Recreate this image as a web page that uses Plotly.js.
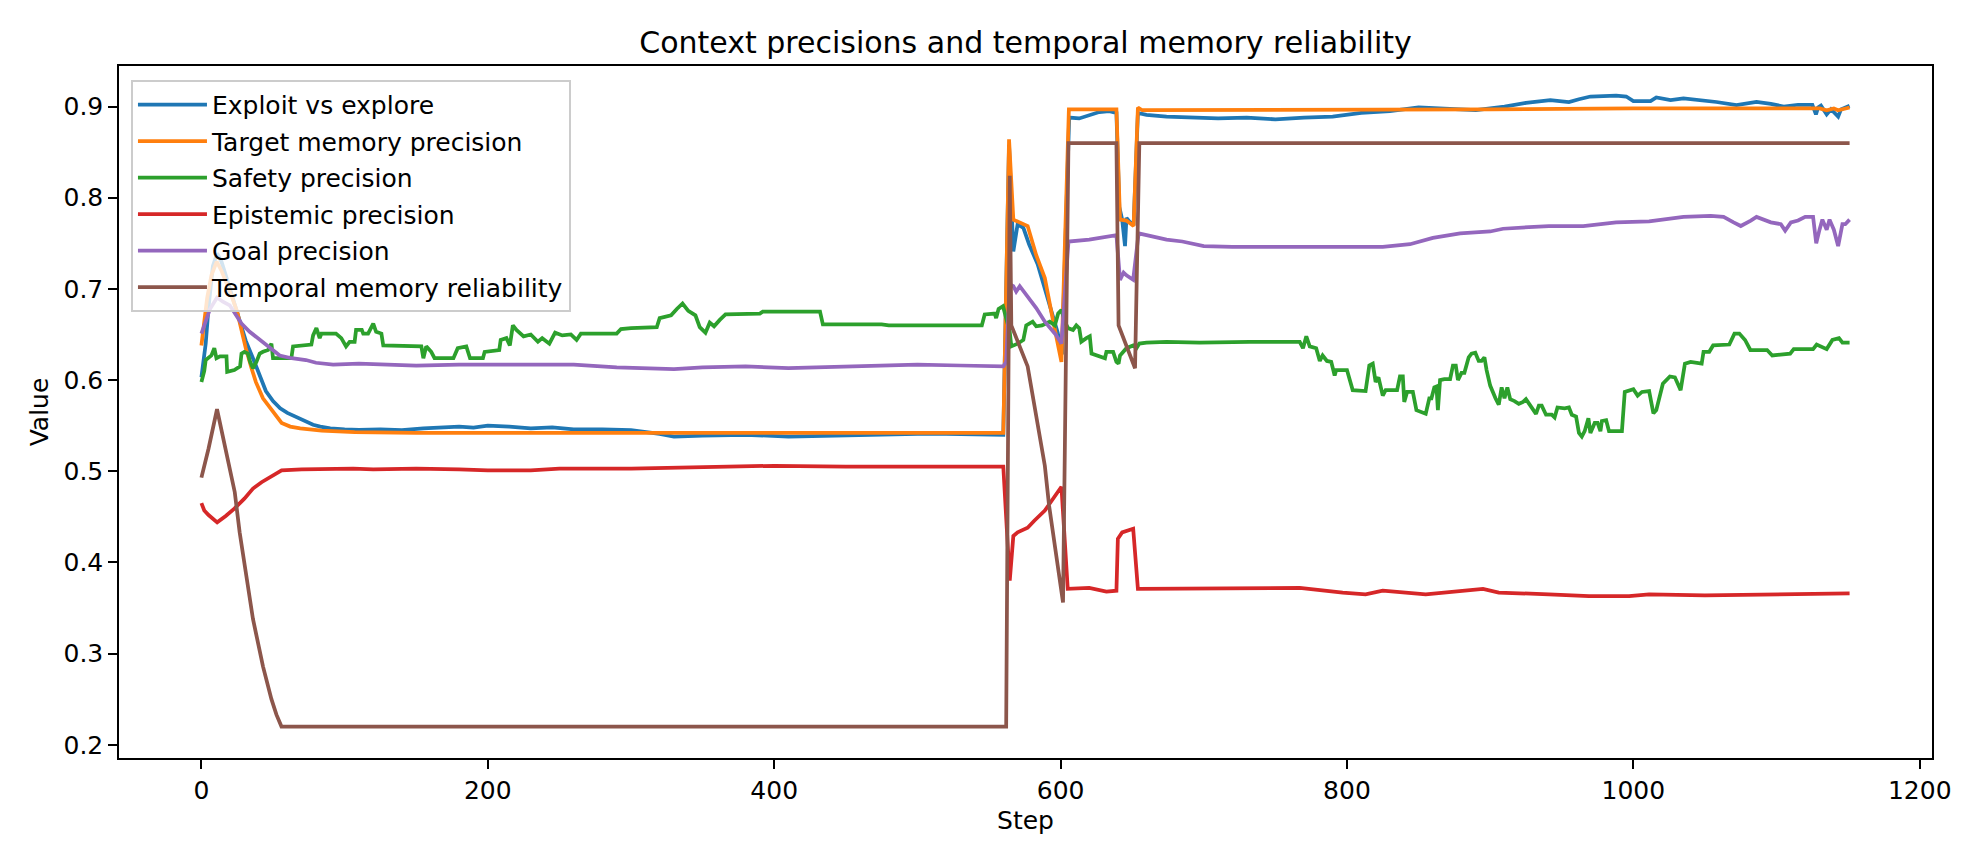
<!DOCTYPE html>
<html>
<head>
<meta charset="utf-8">
<script src="https://cdn.plot.ly/plotly-3.0.1.min.js"></script>
<style>html,body{margin:0;padding:0;background:#fff;}#chart{width:1980px;height:864px;}</style>
</head>
<body>
<div id="chart"></div>
<script>
// ---- Data ----
const seriesNames = ["Exploit vs explore", "Target memory precision", "Safety precision",
  "Epistemic precision", "Goal precision", "Temporal memory reliability"];
const seriesColors = ["#1f77b4", "#ff7f0e", "#2ca02c", "#d62728", "#9467bd", "#8c564b"];

const exploitSteps = [0,3,5,8,11,14,18,22,27,31,36,41,45,50,55,60,64,69,73,78,83,90,100,110,125,140,155,165,180,190,200,215,230,245,260,280,300,320,330,350,380,410,440,460,480,500,520,540,560,562,564,567,570,574,578,584,589,594,598,601,606,613,620,627,634,639,641,643,645,646,648,651,654,660,674,690,710,730,750,770,790,810,830,850,870,890,910,925,942,955,962,970,988,995,1000,1012,1016,1026,1035,1058,1072,1086,1096,1105,1115,1125,1127.5,1129,1131,1135,1138,1143,1145,1148,1151];
const exploitValues = [0.603,0.64,0.68,0.725,0.739,0.73,0.71,0.69,0.665,0.643,0.624,0.604,0.588,0.577,0.569,0.564,0.561,0.557,0.554,0.551,0.549,0.547,0.546,0.5455,0.546,0.545,0.547,0.548,0.549,0.548,0.55,0.549,0.547,0.548,0.546,0.546,0.545,0.541,0.538,0.539,0.54,0.538,0.539,0.54,0.541,0.541,0.541,0.541,0.54,0.7,0.858,0.741,0.771,0.767,0.749,0.727,0.70,0.675,0.652,0.628,0.888,0.887,0.891,0.894,0.895,0.893,0.79,0.776,0.747,0.778,0.774,0.77,0.893,0.891,0.889,0.888,0.887,0.888,0.886,0.888,0.889,0.893,0.895,0.899,0.898,0.896,0.9,0.904,0.907,0.905,0.908,0.911,0.912,0.911,0.906,0.906,0.91,0.907,0.909,0.905,0.9015,0.905,0.903,0.9,0.902,0.902,0.8915,0.899,0.901,0.8915,0.897,0.889,0.897,0.899,0.901];

const targetSteps = [0,4,7,10.7,14,18,22,25,31,35,38,43,48,56,62,69,84,107,150,300,450,560,562,564,567,577,583,589,594,597,600.6,605.8,639,641.5,646,651,654,657,700,800,900,1000,1100,1130,1135,1140,1143,1151];
const targetValues = [0.638,0.69,0.715,0.73,0.72,0.705,0.688,0.675,0.635,0.613,0.598,0.58,0.569,0.553,0.549,0.547,0.5445,0.543,0.542,0.542,0.542,0.542,0.7,0.864,0.776,0.769,0.737,0.712,0.671,0.646,0.62,0.897,0.897,0.776,0.775,0.769,0.899,0.896,0.896,0.897,0.897,0.898,0.898,0.898,0.896,0.898,0.896,0.899];

const safetySteps = [0,2,3,7,9,10.5,13,17.5,18,23,27,28,30,32.5,34,36,38.4,40.7,43,46.5,48.9,50,54.7,62.8,64,76.8,78,80.3,82.6,83.8,94,97.7,101,103.5,107,108,112,113,116.4,120,122,125.7,127,153.6,155,157,160.5,162.8,176,179,185,187.6,196.6,197.8,208,209,213,215.4,217.5,220,225,230,235,238,243,247,252,258,262,265,290,293,300,310,318,320,328,332,336,340,345,348,352,355,358,362,366,390,392,432,434,475,480,545,547,554,555,556.7,559.8,564.5,565.6,570,574,576,580.5,583,587,592.4,596,598.3,600.6,603,605.2,608.7,611,613,614.5,618,620.4,621.6,627.4,631,632,636.7,639,640.5,641.5,646,650.7,653,655,660,674,697,732,767,769.3,771.6,774,778.5,781,783,786,789,791.4,792.5,800,804,813,815.6,818,820,822,825,827,835,837,839,840,842,846,848.5,855,857.5,859,861,862.5,863.5,865,868,872,874,876,877.5,880,882,885,887,889.6,892,894,896,897.5,900,903.7,906,908,910,912,914,917,920,923,925,932,934,936,939,943,945,947,952,955,957,960,962,964,966,968.6,970,973,975,977,978,981,983,988,992,994,1000,1003,1006,1011,1014,1016,1020.6,1025.5,1029,1033,1036,1040,1047.7,1049,1053,1055.7,1067,1070.6,1074,1078,1081.7,1093.4,1097,1109.5,1112,1125.5,1128,1135,1139,1143.6,1146,1151];
const safetyValues = [0.598,0.61,0.622,0.627,0.635,0.624,0.626,0.626,0.609,0.611,0.615,0.629,0.631,0.629,0.62,0.613,0.62,0.629,0.631,0.633,0.64,0.624,0.624,0.624,0.637,0.639,0.649,0.657,0.646,0.651,0.651,0.646,0.637,0.642,0.642,0.655,0.655,0.651,0.651,0.662,0.653,0.651,0.638,0.637,0.624,0.637,0.631,0.624,0.624,0.635,0.637,0.624,0.624,0.631,0.633,0.644,0.646,0.638,0.66,0.655,0.648,0.65,0.642,0.646,0.64,0.652,0.649,0.65,0.644,0.651,0.651,0.656,0.657,0.658,0.658,0.668,0.671,0.678,0.684,0.676,0.671,0.658,0.652,0.663,0.659,0.666,0.672,0.673,0.675,0.675,0.661,0.661,0.66,0.66,0.672,0.673,0.668,0.678,0.681,0.653,0.637,0.64,0.644,0.66,0.664,0.659,0.66,0.664,0.66,0.673,0.677,0.664,0.657,0.655,0.66,0.657,0.642,0.646,0.648,0.629,0.626,0.624,0.631,0.631,0.62,0.618,0.627,0.635,0.638,0.635,0.64,0.641,0.642,0.641,0.642,0.642,0.635,0.648,0.637,0.635,0.621,0.627,0.621,0.62,0.605,0.611,0.611,0.589,0.588,0.616,0.618,0.598,0.603,0.583,0.589,0.589,0.604,0.604,0.576,0.587,0.587,0.567,0.563,0.58,0.58,0.592,0.593,0.567,0.6,0.601,0.601,0.616,0.616,0.6,0.608,0.608,0.625,0.629,0.63,0.621,0.621,0.625,0.611,0.594,0.58,0.573,0.592,0.58,0.592,0.579,0.577,0.574,0.576,0.579,0.563,0.572,0.572,0.562,0.562,0.559,0.57,0.569,0.57,0.562,0.56,0.542,0.538,0.544,0.558,0.542,0.553,0.553,0.544,0.555,0.556,0.544,0.544,0.544,0.587,0.59,0.583,0.587,0.588,0.5635,0.567,0.596,0.604,0.603,0.589,0.618,0.62,0.618,0.631,0.631,0.638,0.639,0.651,0.651,0.644,0.633,0.633,0.627,0.629,0.634,0.634,0.639,0.634,0.644,0.646,0.641,0.641];

const epistemicSteps = [0,2,5,11,17,23,30,36,42,50,56,70,90,106,120,150,180,200,230,250,300,340,360,400,450,500,560,564.5,567,570,577,581.8,589,600.6,605,620,632,639,640,643,650.7,654,662,700,767,797,813,825,855,895,906,941,969,997,1011,1050,1100,1151];
const epistemicValues = [0.465,0.457,0.452,0.444,0.451,0.459,0.47,0.481,0.488,0.496,0.501,0.502,0.503,0.503,0.502,0.503,0.502,0.501,0.501,0.503,0.503,0.504,0.505,0.506,0.505,0.505,0.505,0.38,0.429,0.433,0.438,0.446,0.457,0.483,0.371,0.372,0.368,0.369,0.426,0.433,0.437,0.371,0.371,0.372,0.372,0.367,0.365,0.369,0.365,0.371,0.367,0.365,0.363,0.363,0.365,0.364,0.365,0.366];

const goalSteps = [0,3,6,10.9,15,19.8,24.4,28,33.7,40,45.4,50,54.7,63,73,80,92,110,130,150,180,200,230,260,290,320,330,350,380,410,440,470,500,530,560,562,564.5,567,569,571.5,578,583,589,597,600.6,605.5,620,632,639,641.5,644,646,650.7,654.5,661,674,685,700,720,755,790,825,844,860,879,900,909,941,965,988,1011,1035,1054,1063,1070,1075,1082,1086,1096,1103,1106,1110,1115,1120,1125.5,1127.7,1130,1132,1135,1137,1140,1143,1146,1148,1151];
const goalValues = [0.651,0.665,0.678,0.6905,0.686,0.682,0.671,0.662,0.653,0.645,0.638,0.632,0.627,0.624,0.622,0.619,0.617,0.618,0.617,0.616,0.617,0.617,0.616,0.617,0.614,0.613,0.612,0.614,0.615,0.613,0.614,0.616,0.617,0.616,0.615,0.62,0.705,0.703,0.697,0.703,0.69,0.679,0.664,0.649,0.64,0.752,0.754,0.757,0.759,0.71,0.718,0.715,0.71,0.761,0.759,0.754,0.752,0.747,0.746,0.746,0.745,0.746,0.749,0.756,0.761,0.763,0.766,0.769,0.769,0.773,0.774,0.779,0.78,0.779,0.773,0.769,0.775,0.779,0.773,0.771,0.764,0.773,0.775,0.779,0.779,0.75,0.765,0.776,0.765,0.776,0.765,0.747,0.771,0.771,0.776];

const temporalSteps = [0,5,10.9,23.3,26.7,30.2,36,43,48.9,52.4,55.9,562,564.5,565.6,577,589,592,601.7,605.5,639,640.5,652,655,1151];
const temporalValues = [0.493,0.525,0.568,0.477,0.433,0.396,0.338,0.286,0.25,0.233,0.22,0.22,0.824,0.66,0.615,0.506,0.462,0.356,0.86,0.86,0.66,0.613,0.86,0.86];

const xTicks = [0,200,400,600,800,1000,1200];
const yTicks = [0.2,0.3,0.4,0.5,0.6,0.7,0.8,0.9];

// ---- Build traces ----
const stepsList = [exploitSteps, targetSteps, safetySteps, epistemicSteps, goalSteps, temporalSteps];
const valuesList = [exploitValues, targetValues, safetyValues, epistemicValues, goalValues, temporalValues];
const traces = seriesNames.map((name, i) => ({
  type: 'scatter', mode: 'lines', name: name,
  x: stepsList[i], y: valuesList[i],
  line: {color: seriesColors[i], width: 3.75},
  legendgroup: 'g' + i
}));

const font = "DejaVu Sans, Liberation Sans, sans-serif";
const layout = {
  width: 1980, height: 864,
  paper_bgcolor: '#ffffff', plot_bgcolor: '#ffffff',
  margin: {l: 119, r: 48, t: 66, b: 106, pad: 0},
  font: {family: font, size: 25, color: '#000'},
  title: {text: 'Context precisions and temporal memory reliability', font: {family: font, size: 30, color: '#000'},
          x: 0.5, xref: 'paper', xanchor: 'center', y: 1 - 42/864, yref: 'container', yanchor: 'middle'},
  showlegend: true,
  legend: {x: 0.0066, y: 0.98, xanchor: 'left', yanchor: 'top', bgcolor: 'rgba(255,255,255,0.8)',
           bordercolor: '#cccccc', borderwidth: 2, font: {family: font, size: 25, color: '#000'},
           traceorder: 'grouped', tracegroupgap: 1, itemwidth: 69},
  xaxis: {range: [-57.55, 1208.55], tickvals: xTicks, ticktext: xTicks.map(String),
          showgrid: false, zeroline: false, showline: true, linecolor: '#000', linewidth: 2, mirror: true,
          ticks: 'outside', ticklen: 8.75, tickwidth: 2, tickcolor: '#000',
          tickfont: {family: font, size: 25, color: '#000'},
          title: {text: 'Step', font: {family: font, size: 25, color: '#000'}, standoff: 8}},
  yaxis: {range: [0.1855, 0.9445], tickvals: yTicks, ticktext: yTicks.map(v => v.toFixed(1)),
          showgrid: false, zeroline: false, showline: true, linecolor: '#000', linewidth: 2, mirror: true,
          ticks: 'outside', ticklen: 8.75, tickwidth: 2, tickcolor: '#000',
          tickfont: {family: font, size: 25, color: '#000'},
          title: {text: 'Value', font: {family: font, size: 25, color: '#000'}, standoff: 8}}
};
Plotly.newPlot('chart', traces, layout, {displayModeBar: false, staticPlot: true});
</script>
</body>
</html>
